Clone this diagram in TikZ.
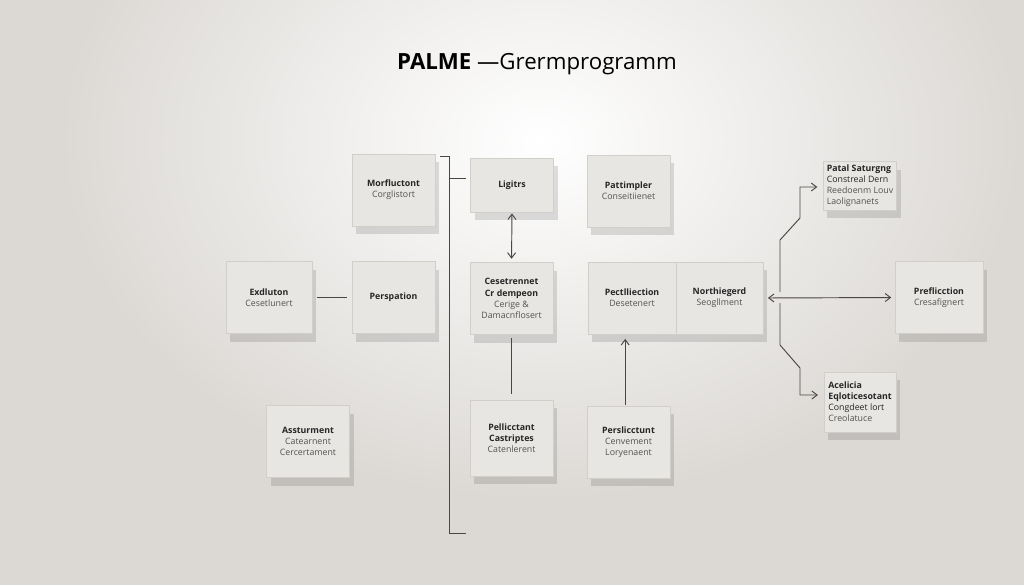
\documentclass[tikz,border=0pt]{standalone}
\usepackage{fontspec}
\setmainfont{Open Sans}
\usepackage{tikz}
\usetikzlibrary{positioning, backgrounds, shadows, arrows.meta}
\definecolor{wall}{HTML}{DCD9D5}
\definecolor{boxfill}{HTML}{E8E6E3}
\definecolor{boxedge}{HTML}{D2CFCB}
\definecolor{linecol}{HTML}{4A4643}
\definecolor{subtext}{HTML}{55524F}
\tikzstyle{block} = [rectangle, draw=boxedge, fill=boxfill, align=center,
                 minimum width=24.9mm, minimum height=21.6mm, inner sep=1mm,
                 font=\fontsize{7.5}{9.5}\selectfont, text=black!85,
                 drop shadow={shadow xshift=1.2mm, shadow yshift=-2.4mm,
                              fill=black, opacity=0.12}]
\tikzstyle{branch} = [line width=0.8pt, draw=linecol]
\tikzset{
	small/.style={minimum width=21.6mm, minimum height=14.4mm, align=left},
	flat/.style={minimum height=16.2mm},
}
\newcommand{\subline}[1]{{\color{subtext}#1}}

\begin{document}
\begin{tikzpicture}[x=0.3mm, y=-0.3mm, >={Straight Barb[length=1.6mm, width=2.4mm]}]

% wall and light
\useasboundingbox (0,0) rectangle (1024,585);
\fill [wall] (0,0) rectangle (1024,585);
\begin{scope}
\clip (0,0) rectangle (1024,585);
\shade [inner color=white, outer color=wall] (540,140) ellipse (480 and 360);
\end{scope}

\node at (537,64) (title) {\fontsize{19}{23}\selectfont\textbf{PALME} —Grermprogramm};

% top row
\node [block] at (393.5,190) (morfluctont) {\textbf{Morfluctont}\\\subline{Corglistort}};
\node [block, flat] at (512,185) (ligitrs) {\textbf{Ligitrs}};
\node [block] at (628.5,191) (pattimpler) {\textbf{Pattimpler}\\\subline{Conseitiienet}};
\node [block, small] at (860,186) (pateil) {\textbf{Patal Saturgng}\\Constreal Dern\\\subline{Reedoenm Louv}\\\subline{Laolignanets}};

% middle row
\node [block, minimum width=25.8mm] at (269,297.5) (exdluton) {\textbf{Exdluton}\\\subline{Cesetlunert}};
\node [block] at (393.5,297.5) (perspation) {\textbf{Perspation}};
\node [block] at (511.5,298.5) (cesetrennet) {\textbf{Cesetrennet}\\\textbf{Cr dempeon}\\\subline{Cerige \&}\\\subline{Damacnflosert}};
\node [block, minimum width=26.4mm] at (632,298) (pectlliection) {\textbf{Pectlliection}\\\subline{Desetenert}};
\node [block, minimum width=26.1mm] at (719.5,298) (northiegerd) {\textbf{Northiegerd}\\\subline{Seogllment}};
\node [block, minimum width=26.4mm] at (939,297.5) (prediction) {\textbf{Preflicction}\\\subline{Cresafignert}};
\node [block, small, minimum height=18mm] at (860,402) (acelicia) {\textbf{Acelicia}\\\textbf{Eqloticesotant}\\Congdeet lort\\\subline{Creolatuce}};

% bottom row
\node [block] at (308,441.5) (assturment) {\textbf{Assturment}\\\subline{Catearnent}\\\subline{Cercertament}};
\node [block, minimum height=22.8mm] at (511.5,438) (pellicctant) {\textbf{Pellicctant}\\\textbf{Castriptes}\\\subline{Catenlerent}};
\node [block] at (628.5,442) (perslicctunt) {\textbf{Perslicctunt}\\\subline{Cenvement}\\\subline{Loryenaent}};

% bracket
\coordinate (brtl) at (440,156);
\coordinate (brtr) at (449,156);
\coordinate (brmid) at (449,178);
\coordinate (brtick) at (466,178);
\coordinate (brbl) at (449,533);
\coordinate (brbr) at (466,533);
\path [branch] (brtl) -- (brtr) -- (brbl) -- (brbr);
\path [branch] (brmid) -- (brtick);

\path [branch, <->, shorten <=1pt, shorten >=3pt] (ligitrs.south) -- (cesetrennet.north);
\path [branch, shorten <=4pt, shorten >=4pt] (exdluton.east) -- (perspation.west);
\path [branch, shorten <=3pt, shorten >=5pt] (cesetrennet.south) -- (pellicctant.north);
\path [branch, ->, shorten <=1pt, shorten >=4pt] ([xshift=-1mm]perslicctunt.north) -- ([xshift=-1mm]perslicctunt.north |- pectlliection.south);

% fan out to the right
\coordinate (hubup) at (780,292);
\coordinate (hubdn) at (780,303);
\coordinate (upa) at (780,240);
\coordinate (upb) at (800,218);
\coordinate (upc) at (800,187);
\coordinate (dna) at (780,345);
\coordinate (dnb) at (800,368);
\coordinate (dnc) at (800,395);
\path [branch, <->, shorten <=4pt, shorten >=3pt] (northiegerd.east) -- (prediction.west);
\path [branch, ->, shorten >=5pt] (hubup) -- (upa) -- (upb) -- (upc) -- (upc -| pateil.west);
\path [branch, ->, shorten >=5pt] (hubdn) -- (dna) -- (dnb) -- (dnc) -- (dnc -| acelicia.west);

\end{tikzpicture}
\end{document}
